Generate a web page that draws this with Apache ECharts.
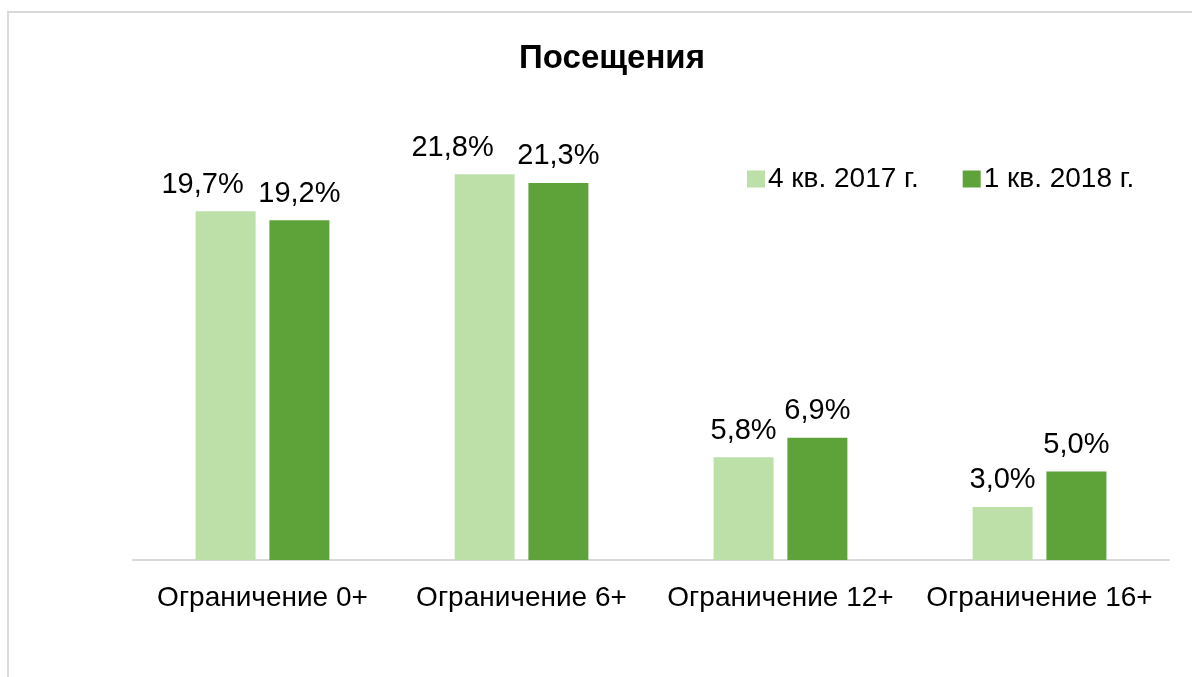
<!DOCTYPE html>
<html>
<head>
<meta charset="utf-8">
<script src="https://cdn.jsdelivr.net/npm/echarts@6/dist/echarts.min.js"></script>
<style>
  html, body { margin: 0; padding: 0; background: #fff; }
  #chart { width: 1192px; height: 677px; }
</style>
</head>
<body>
<div id="chart"></div>
<script>
// данные
const categories = ['Ограничение 0+', 'Ограничение 6+', 'Ограничение 12+', 'Ограничение 16+']
const seriesNames = ['4 кв. 2017 г.', '1 кв. 2018 г.']
const q4_2017 = [19.7, 21.8, 5.8, 3.0]
const q1_2018 = [19.2, 21.3, 6.9, 5.0]

const FONT = '"Liberation Sans", Arial, sans-serif'
const fmt = p => p.value.toFixed(1).replace('.', ',') + '%'

const chart = echarts.init(document.getElementById('chart'))

// сдвиг подписей первых двух светлых столбцов влево, как в исходнике
const lightOffsets = [[-23, 0], [-32, 0], [0, 0], [0, 0]]

const labelStyle = { show: true, position: 'top', distance: 12, fontSize: 29, color: '#000', formatter: fmt }

chart.setOption({
  animation: false,
  textStyle: { fontFamily: FONT },
  graphic: [{
    type: 'rect',
    shape: { x: 8, y: 12, width: 1400, height: 1000 },
    style: { fill: 'none', stroke: '#d9d9d9', lineWidth: 2 },
    silent: true
  }],
  title: {
    text: 'Посещения',
    left: 607,
    top: 37,
    textAlign: 'center',
    textStyle: { fontSize: 33, fontWeight: 'bold', color: '#000', fontFamily: FONT }
  },
  legend: {
    data: seriesNames,
    left: 742,
    top: 160,
    itemWidth: 18,
    itemHeight: 17,
    itemGap: 44,
    icon: 'rect',
    textStyle: { fontSize: 28, color: '#000', padding: [0, 0, 0, -2] }
  },
  grid: { left: 133, right: 23, top: 117.5, bottom: 117 },
  xAxis: {
    type: 'category',
    data: categories,
    axisLine: { lineStyle: { color: '#d9d9d9', width: 2 } },
    axisTick: { show: false },
    axisLabel: { fontSize: 28, color: '#000', margin: 24, interval: 0 }
  },
  yAxis: {
    type: 'value',
    min: 0,
    max: 25,
    show: false,
    splitLine: { show: false }
  },
  series: [
    {
      name: seriesNames[0],
      type: 'bar',
      barWidth: 60,
      barGap: '23%',
      itemStyle: { color: '#bde0a8' },
      data: q4_2017.map((v, i) => ({
        value: v,
        label: { offset: lightOffsets[i] }
      })),
      label: labelStyle
    },
    {
      name: seriesNames[1],
      type: 'bar',
      barWidth: 60,
      itemStyle: { color: '#5ea23a' },
      data: q1_2018,
      label: labelStyle
    }
  ]
})
</script>
</body>
</html>
